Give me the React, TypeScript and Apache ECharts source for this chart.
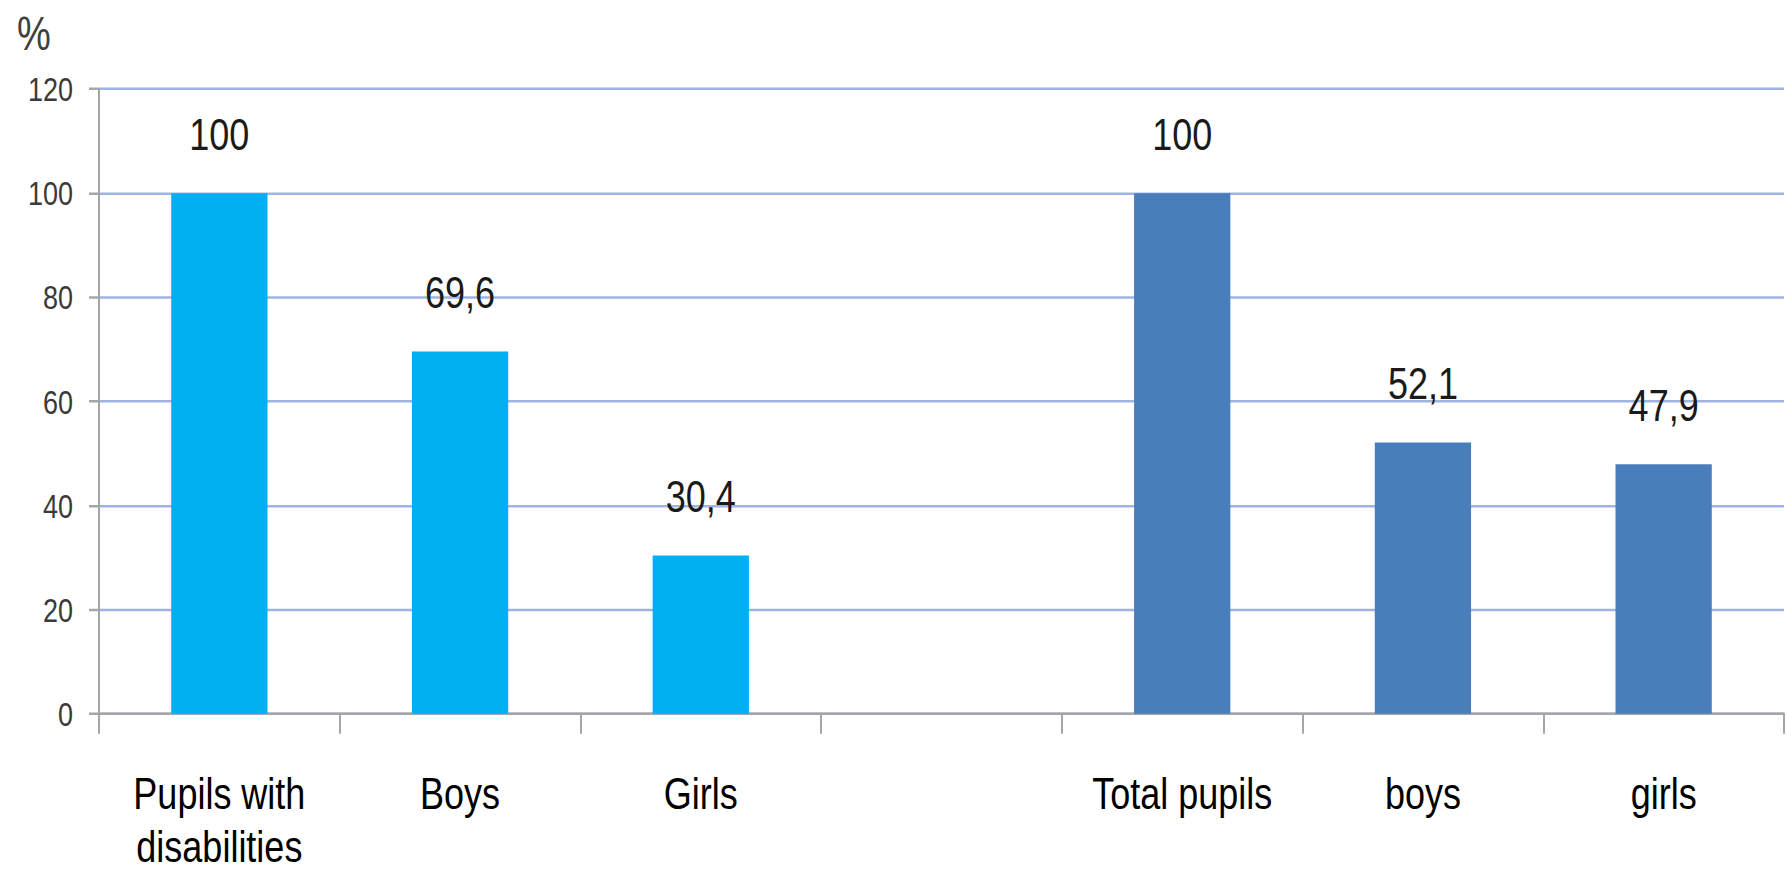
import React, { useEffect, useRef } from "react";
import * as echarts from "echarts";

const categories = ["Pupils with\ndisabilities", "Boys", "Girls", "", "Total pupils", "boys", "girls"];
const values: (number | string)[] = [100, 69.6, 30.4, "-", 100, 52.1, 47.9];
const yTicks = { min: 0, max: 120, interval: 20 };
const unitLabel = "%";

const FONT = "'Liberation Sans', Arial, Helvetica, sans-serif";
const W = 1787;
const H = 872;
const S = 1.25; // vertical stretch of the whole drawing (narrow, tall lettering)

export default function App() {
  const ref = useRef<HTMLDivElement>(null);
  useEffect(() => {
    document.body.style.margin = "0";
    const chart = echarts.init(ref.current!, null, { renderer: "svg" });
    chart.setOption({
      animation: false,
      backgroundColor: "#ffffff",
      title: {
        text: unitLabel,
        left: 12,
        top: 3,
        textStyle: { fontFamily: FONT, fontSize: 38, fontWeight: "normal", color: "#404040" },
      },
      grid: { left: 99, right: 3, top: 89 / S, bottom: (H - 720) / S, containLabel: false },
      xAxis: {
        type: "category",
        data: categories,
        boundaryGap: true,
        axisLine: { lineStyle: { color: "#A6A6A6", width: 2 } },
        axisTick: { show: true, length: 16, lineStyle: { color: "#A6A6A6", width: 2 } },
        axisLabel: {
          interval: 0,
          margin: 43,
          fontSize: 36,
          lineHeight: 42,
          color: "#000000",
          fontFamily: FONT,
        },
      },
      yAxis: {
        type: "value",
        min: yTicks.min,
        max: yTicks.max,
        interval: yTicks.interval,
        axisLine: { show: true, lineStyle: { color: "#A6A6A6", width: 2 } },
        axisTick: { show: true, length: 10, lineStyle: { color: "#A6A6A6", width: 2 } },
        axisLabel: { margin: 26, fontSize: 27, color: "#3a3a3a", fontFamily: FONT },
        splitLine: { show: true, lineStyle: { color: "#9FB4E0", width: 2 } },
      },
      series: [
        {
          type: "bar",
          data: values,
          barWidth: "40%",
          itemStyle: {
            color: (p: any) => (p.dataIndex < 3 ? "#00B0F0" : "#4A7EBB"),
          },
          label: {
            show: true,
            position: "top",
            distance: 29,
            fontSize: 36,
            lineHeight: 36,
            color: "#1a1a1a",
            fontFamily: FONT,
            formatter: (p: any) => String(p.value).replace(".", ","),
          },
        },
      ],
    });
    return () => chart.dispose();
  }, []);
  return (
    <div style={{ width: W, height: H, overflow: "hidden", background: "#fff" }}>
      <div
        ref={ref}
        style={{ width: W, height: H / S, transform: `scaleY(${S})`, transformOrigin: "0 0" }}
      />
    </div>
  );
}
